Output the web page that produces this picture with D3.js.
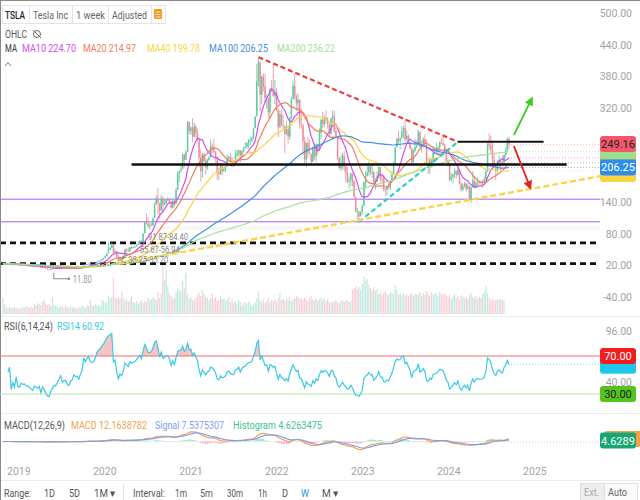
<!DOCTYPE html>
<html>
<head>
<meta charset="utf-8">
<script src="https://cdn.jsdelivr.net/npm/d3@7"></script>
<style>
body{margin:0;background:#fff;}
svg{display:block;font-family:Roboto,"Noto Sans",sans-serif;}
</style>
</head>
<body>
<svg id="chart" width="640" height="500"></svg>
<script>
// TSLA weekly, split adjusted, week ending Fridays from 2018-11-16
var firstWeek = "2018-11-16";
var firstOpen = 23.37;

var closes = [
 23.62,21.72,23.37,23.86,24.38,21.32,22.26,
 21.18,23.15,20.15,19.80,20.81,20.39,20.53,19.65,19.65,18.94,18.36,17.64,18.66,18.33,17.85,18.22,15.68,17.00,15.97,14.07,12.71,12.34,13.63,14.26,14.79,14.90,15.54,16.36,17.21,15.20,15.62,15.67,14.66,14.09,15.04,15.31,16.47,16.04,16.14,15.43,16.53,17.46,21.88,20.89,22.48,23.48,22.20,22.00,22.39,23.89,27.04,28.69,
 29.53,31.88,34.03,37.65,43.37,49.87,53.34,60.07,44.53,46.90,36.44,28.50,34.29,32.00,38.20,50.26,48.34,46.75,54.63,53.28,54.46,55.67,59.04,62.35,66.73,63.98,80.58,102.98,100.04,94.47,95.38,96.85,110.05,136.67,147.56,139.44,124.24,147.38,135.78,138.36,144.67,146.56,140.21,129.35,143.32,136.17,163.20,195.25,199.68,203.33,231.67,220.59,235.22,
 293.34,275.39,282.21,264.51,284.08,272.04,260.43,225.17,199.32,231.24,218.29,206.24,220.58,225.67,246.59,243.13,236.48,224.12,196.58,193.63,208.41,199.68,203.30,207.77,223.96,226.30,218.98,214.74,214.46,229.07,233.03,239.06,226.75,237.31,244.52,245.42,253.16,258.13,258.41,261.83,281.01,303.23,371.33,407.36,344.47,379.02,360.64,338.32,339.01,310.86,355.67,352.26,
 342.32,349.87,314.63,282.12,307.77,286.67,285.66,269.96,279.43,265.12,301.80,336.88,361.53,341.83,328.33,335.02,290.25,288.55,256.53,221.30,253.21,234.52,232.23,216.76,245.71,227.26,250.76,240.07,272.24,297.15,288.17,300.03,296.67,288.09,270.21,299.68,303.35,275.33,265.25,223.07,204.99,214.44,228.52,207.47,195.97,180.19,182.86,194.86,179.05,150.23,123.15,123.18,
 113.06,122.40,133.42,177.90,189.98,196.89,208.31,196.88,197.79,173.44,180.13,190.41,207.46,185.06,185.00,165.08,164.31,170.06,167.98,180.14,193.17,213.97,244.40,260.54,256.60,261.77,274.43,281.38,260.02,266.44,253.86,242.65,215.49,238.59,245.01,248.50,274.39,244.88,250.22,260.53,251.12,211.99,207.30,219.96,214.65,234.30,235.45,238.83,243.84,253.50,252.54,248.48,
 237.49,218.89,212.19,183.25,187.91,193.57,199.95,191.97,202.64,175.34,163.57,170.83,175.79,164.90,171.05,147.05,168.29,181.19,168.47,177.46,179.24,178.08,177.48,178.01,183.01,197.88,251.52,248.23,239.20,219.80,207.67,200.00,216.12,220.32,214.11,210.73,230.29,238.25,260.46,249.16
];

var highs = [
 23.8,23.5,23.6,24.5,25.1,24.9,22.6,
 22.6,23.3,23.5,20.5,21.8,21.4,20.8,20.8,21.4,19.8,19.3,18.4,18.7,19.2,18.5,18.5,18.4,17.2,16.9,16.0,14.2,13.1,13.9,14.7,15.1,15.3,16.5,16.5,17.3,17.6,16.1,16.0,15.8,15.1,15.3,15.5,16.6,16.7,16.4,16.6,16.7,17.6,22.0,22.1,22.8,23.7,24.2,22.6,22.6,24.2,27.3,29.0,
 30.3,33.2,34.3,39.5,43.6,64.6,55.0,63.1,60.1,51.8,46.9,40.5,37.0,35.4,38.9,51.6,53.1,54.0,55.1,56.4,55.7,56.0,60.0,66.3,67.5,67.9,81.5,103.3,119.7,112.1,101.2,101.2,111.0,139.7,154.1,166.7,137.0,153.7,151.4,144.6,145.6,150.4,148.3,142.5,145.3,143.5,167.5,198.3,199.9,214.7,231.7,223.2,239.6,
 294.8,289.3,284.3,300.1,292.0,288.0,280.2,256.6,240.4,233.7,235.3,224.0,223.0,229.0,260.3,252.5,260.3,237.1,218.7,206.2,211.2,210.0,205.0,210.4,230.8,229.0,233.1,226.6,217.7,239.6,240.0,239.4,239.4,239.7,245.2,254.8,253.2,259.9,264.6,264.8,281.1,303.3,402.9,414.5,400.0,381.0,385.3,385.0,345.4,335.0,357.0,372.9,
 402.7,371.9,356.9,318.5,315.0,315.9,306.3,277.8,295.5,286.7,302.6,340.6,371.6,384.3,345.3,348.0,336.0,318.7,286.2,264.6,253.5,264.4,259.6,230.0,246.1,252.0,252.1,250.0,280.8,298.3,311.9,305.0,314.7,302.0,284.0,299.9,314.9,313.8,288.5,254.3,225.8,229.8,233.8,237.4,209.0,207.6,188.5,196.3,191.3,182.5,150.0,129.3,
 119.0,122.6,136.7,180.7,199.0,214.0,217.6,209.7,211.2,198.6,186.2,199.3,207.8,202.7,191.8,191.6,167.0,170.8,177.4,180.7,198.6,216.9,245.2,263.6,276.9,263.6,284.3,286.1,299.3,276.0,269.1,255.6,243.8,240.8,261.2,258.0,278.4,271.4,256.7,263.6,268.9,259.9,224.1,226.4,223.8,246.7,243.6,252.8,246.7,256.0,262.9,265.1,
 251.7,242.7,223.5,217.5,196.4,194.1,205.6,199.4,205.6,197.0,179.4,176.0,179.3,176.8,176.4,167.4,170.1,198.9,188.9,179.6,187.7,181.3,181.5,182.9,188.8,203.2,252.4,271.0,266.6,253.2,232.5,207.0,219.8,228.2,215.9,229.0,231.0,244.2,263.5,264.9
];

var lows = [
 21.9,21.5,21.6,23.0,23.3,21.2,19.7,
 20.2,20.8,19.9,19.2,19.6,20.1,19.9,19.4,19.2,18.4,17.8,17.5,17.4,17.1,17.5,17.3,15.4,15.5,15.6,13.8,12.5,12.1,11.8,13.5,14.2,14.5,14.9,15.2,16.2,15.0,15.0,14.8,14.5,13.9,13.9,14.6,15.3,15.9,14.9,14.6,15.2,16.4,16.9,20.3,20.5,22.3,21.9,21.7,21.6,22.6,24.0,27.2,
 28.3,29.3,31.2,33.9,37.3,44.2,49.6,53.4,40.8,44.0,33.8,23.4,28.1,29.8,33.0,38.5,45.2,45.8,45.3,51.0,52.5,53.0,56.0,59.4,60.2,63.2,64.2,82.0,97.1,92.1,89.0,95.1,94.4,110.5,135.9,117.3,109.3,124.2,118.1,134.0,135.5,141.2,136.9,126.4,130.3,131.0,140.9,166.2,179.2,197.0,207.0,206.5,222.0,
 239.1,269.7,268.6,254.5,263.3,262.5,255.8,206.3,179.8,186.7,208.3,193.3,201.3,218.3,226.0,233.3,233.0,215.5,182.3,182.5,191.7,191.3,197.0,198.7,206.7,216.5,215.8,211.8,206.8,212.0,226.2,228.8,216.3,228.7,234.9,243.4,240.6,242.3,248.2,253.3,260.3,281.3,312.0,360.3,313.0,326.7,350.5,328.9,318.0,300.0,299.0,349.7,
 340.0,326.2,313.2,264.0,287.7,285.3,277.0,233.3,268.0,252.0,258.7,298.3,336.0,335.0,313.7,311.7,280.0,279.5,230.0,211.0,206.9,224.0,231.0,208.7,217.0,220.9,216.2,230.0,240.0,260.8,281.0,283.5,290.0,280.0,262.5,268.5,287.9,271.8,262.5,220.9,203.0,198.6,202.0,198.6,177.1,176.5,166.2,172.0,170.0,149.0,121.0,108.2,
 101.8,114.9,116.9,134.3,164.8,189.4,190.6,191.8,186.0,169.0,163.9,179.4,185.1,179.0,176.1,160.5,152.4,153.2,163.9,163.7,178.7,192.1,216.3,246.1,250.5,240.7,265.8,262.3,255.0,255.7,251.5,240.5,212.4,217.0,235.4,243.0,250.5,244.1,234.6,244.3,248.8,210.4,194.1,194.1,205.7,211.6,231.6,231.3,228.0,235.5,251.2,247.4,
 234.5,217.2,207.5,180.1,180.1,175.0,185.9,186.0,190.0,173.7,160.5,162.1,168.4,160.5,167.0,146.2,138.8,174.7,167.6,167.3,170.4,173.6,173.3,167.3,176.8,180.5,201.4,240.9,233.2,212.1,206.5,182.0,194.6,205.8,200.5,209.0,210.2,224.0,238.4,241.8
];

// relative weekly volume, bar heights
var volumes = [
 16,10,7,6,7,6,6,7,6,6,5,6,7,6,8,7,6,7,6,
 10,9,11,10,9,12,14,10,9,10,8,17,9,8,
 7,6,8,7,6,9,7,6,8,6,7,6,5,7,6,8,7,6,9,8,14,9,8,10,8,9,8,
 14,13,11,12,18,16,17,36,16,15,17,15,22,16,13,15,
 12,14,18,12,11,13,10,12,14,11,13,12,16,14,15,17,15,14,22,16,
 20,49,34,44,28,21,18,15,16,22,26,24,23,33,26,41,20,
 15,17,14,13,16,19,22,18,24,20,17,16,
 14,16,21,15,17,13,14,18,15,16,13,14,17,12,15,
 11,13,10,14,12,9,11,12,10,13,11,9,10,12,16,23,
 14,12,15,11,13,16,12,14,13,15,12,16,21,14,
 15,13,16,14,17,13,15,16,18,17,15,16,14,17,15,13,16,18,15,14,16,13,15,17,14,16,13,15,
 12,11,13,12,14,12,11,13,14,12,13,14,12,13,
 24,26,28,25,27,24,30,37,33,35,29,26,24,27,23,25,
 20,22,19,21,23,20,19,22,21,20,29,23,
 19,20,18,21,19,20,18,19,21,18,20,19,
 20,22,18,21,19,23,20,18,22,19,21,20,18,22,20,19,21,18,
 17,19,15,18,20,16,18,14,19,17,16,18,15,19,21,17,16,18,15,17,16,20,
 22,28,21,16,14,15,13,14,15,14,15,14,13
];

var priceTicks = [500, 440, 380, 320, 140, 80, 20, -40];
var rsiTicks = [96, 40];
var maPeriods = [10, 20, 40, 100, 200];
var maColors = ["#d24ef2", "#f37c5c", "#f8d443", "#3f8fe3", "#a6e29b"];
var maLabels = ["MA10 224.70", "MA20 214.97", "MA40 199.78", "MA100 206.25", "MA200 236.22"];
var maLast = [224.70, 214.97, 199.78, 206.25, 236.22];
var lastPrice = "249.16";
var rsiLast = 60.92;

// drawings on the chart: [date, price]
var trendLines = [
 {a: ["2021-11-05", 416], b: ["2024-03-01", 255], color: "#f23b3b", dash: "5,3", w: 2.2},
 {a: ["2023-01-06", 103], b: ["2024-03-01", 255], color: "#2ccfc6", dash: "5,3", w: 2.2},
 {a: ["2020-03-20", 23.4], b: ["2025-10-31", 190], color: "#fcd445", dash: "6,3", w: 2.4},
 {a: ["2024-03-01", 255], b: ["2025-02-28", 255], color: "#111", dash: null, w: 2},
 {a: ["2020-05-15", 212], b: ["2025-06-06", 212], color: "#111", dash: null, w: 2.4}
];
var levels = [
 {price: 146, color: "#a45cf6", dash: null, w: 1},
 {price: 103, color: "#a45cf6", dash: null, w: 1},
 {price: 63, color: "#111", dash: "6,4", w: 2.6},
 {price: 23.4, color: "#111", dash: "6,4", w: 2.6}
];
var arrows = [
 {a: ["2024-10-25", 268], b: ["2025-01-10", 338], color: "#3fcc25"},
 {a: ["2024-10-25", 247], b: ["2025-01-03", 167], color: "#e2231f"}
];
var gaps = [
 {label: "91.87-84.40", hi: 91.87, lo: 84.40, date: "2020-07-24", at: 74},
 {label: "55.67-56.94", hi: 56.94, lo: 55.67, date: "2020-06-19", at: 49},
 {label: "38.25-35.70", hi: 38.25, lo: 35.70, date: "2020-05-01", at: 31}
];
var lowMark = {label: "11.80", date: "2019-06-07", price: 11.8};

var svg = d3.select("#chart");
var parse = d3.timeParse("%Y-%m-%d");
var t0 = parse(firstWeek);
var n = closes.length;
var dates = closes.map(function(c, i){ return d3.timeDay.offset(t0, 7 * i); });
var opens = closes.map(function(c, i){ return i ? closes[i - 1] : firstOpen; });
var up = function(i){ return closes[i] >= opens[i]; };

var x = d3.scaleTime().domain([t0, d3.timeDay.offset(t0, 7 * 320)]).range([3, 530.4]);
var y = d3.scaleLinear().domain([-40, 500]).range([297, 13]);
var volY = d3.scaleLinear().domain([0, 50]).range([314, 264]);
var rsiY = d3.scaleLinear().domain([30, 70]).range([394, 356]);
var macdY = d3.scaleLinear().domain([0, 50]).range([441.5, 431]);
var xd = function(s){ return x(parse(s)); };

// fixed-width label helper (widths measured on the reference)
function label(xx, yy, txt, w, color, size, weight){
  return svg.append("text").attr("x", xx).attr("y", yy).attr("font-size", size || 10.5)
    .attr("fill", color).attr("font-weight", weight || 400)
    .attr("textLength", w).attr("lengthAdjust", "spacingAndGlyphs").text(txt);
}

// indicators
function sma(p){
  return closes.map(function(c, i){ return d3.mean(closes.slice(Math.max(0, i - p + 1), i + 1)); });
}
function ema(arr, p){
  var k = 2 / (p + 1), e = arr[0];
  return arr.map(function(v, i){ if (i) e = v * k + e * (1 - k); return e; });
}
function rsi(p){
  var out = [null], ag = 0, al = 0;
  for (var i = 1; i < n; i++) {
    var d = closes[i] - closes[i - 1], g = Math.max(d, 0), l = Math.max(-d, 0);
    if (i <= p) { ag = (ag * (i - 1) + g) / i; al = (al * (i - 1) + l) / i; }
    else { ag = (ag * (p - 1) + g) / p; al = (al * (p - 1) + l) / p; }
    out.push(al === 0 ? 100 : 100 - 100 / (1 + ag / al));
  }
  return out;
}
var ema12 = ema(closes, 12), ema26 = ema(closes, 26);
var macd = closes.map(function(c, i){ return ema12[i] - ema26[i]; });
var signal = ema(macd, 9);
var hist = macd.map(function(v, i){ return v - signal[i]; });
var rsi14 = rsi(14);
var idx = d3.range(n);

// frame
svg.append("rect").attr("x", 0.5).attr("y", 0.5).attr("width", 660).attr("height", 520)
  .attr("fill", "none").attr("stroke", "#8a8a8a");
[316.5, 413.5, 480.5].forEach(function(yy){
  svg.append("line").attr("x1", 1).attr("x2", 640).attr("y1", yy).attr("y2", yy).attr("stroke", "#ececec");
});

svg.append("clipPath").attr("id", "main").append("rect").attr("x", 1).attr("y", 1).attr("width", 599).attr("height", 314);
var main = svg.append("g").attr("clip-path", "url(#main)");

// volume
main.selectAll("rect.vol").data(idx).join("rect")
  .attr("x", function(i){ return x(dates[i]) - 0.65; })
  .attr("width", 1.3)
  .attr("y", function(i){ return volY(volumes[i] || 0); })
  .attr("height", function(i){ return volY(0) - volY(volumes[i] || 0); })
  .attr("fill", function(i){ return up(i) ? "#c4ece0" : "#fdd0d7"; });

// gap bands
gaps.forEach(function(g){
  var y1 = y(g.hi), y2 = y(g.lo);
  main.append("rect").attr("x", xd(g.date) - 4).attr("width", 610)
    .attr("y", Math.min(y1, y2) - 1.5).attr("height", Math.max(4, Math.abs(y2 - y1)))
    .attr("fill", "#f2f2f2").attr("opacity", 0.6);
});

// level lines
levels.forEach(function(l){
  main.append("line").attr("x1", 0).attr("x2", 600).attr("y1", y(l.price)).attr("y2", y(l.price))
    .attr("stroke", l.color).attr("stroke-width", l.w).attr("stroke-dasharray", l.dash);
});

// candles
main.selectAll("line.wick").data(idx).join("line")
  .attr("x1", function(i){ return x(dates[i]); }).attr("x2", function(i){ return x(dates[i]); })
  .attr("y1", function(i){ return y(highs[i]); }).attr("y2", function(i){ return y(lows[i]); })
  .attr("stroke", function(i){ return up(i) ? "#57cc9f" : "#f2899a"; }).attr("stroke-width", 0.8);
main.selectAll("rect.body").data(idx).join("rect")
  .attr("x", function(i){ return x(dates[i]) - 0.7; }).attr("width", 1.4)
  .attr("y", function(i){ return y(Math.max(opens[i], closes[i])); })
  .attr("height", function(i){ return Math.max(0.8, Math.abs(y(opens[i]) - y(closes[i]))); })
  .attr("fill", function(i){ return up(i) ? "#57cc9f" : "#f2899a"; });

// moving averages
maPeriods.forEach(function(p, k){
  var m = sma(p);
  main.append("path").datum(idx)
    .attr("d", d3.line().x(function(i){ return x(dates[i]); }).y(function(i){ return y(m[i]); }))
    .attr("fill", "none").attr("stroke", maColors[k]).attr("stroke-width", 1.2);
  main.append("line").attr("x1", x(dates[n - 1]) + 2).attr("x2", 600)
    .attr("y1", y(maLast[k])).attr("y2", y(maLast[k]))
    .attr("stroke", maColors[k]).attr("stroke-dasharray", "1,2").attr("opacity", 0.6);
});
main.append("line").attr("x1", x(dates[n - 1]) + 2).attr("x2", 600)
  .attr("y1", y(+lastPrice)).attr("y2", y(+lastPrice))
  .attr("stroke", "#f2899a").attr("stroke-dasharray", "1,2").attr("opacity", 0.7);

// drawings
trendLines.forEach(function(t){
  svg.append("line").attr("x1", xd(t.a[0])).attr("y1", y(t.a[1])).attr("x2", xd(t.b[0])).attr("y2", y(t.b[1]))
    .attr("stroke", t.color).attr("stroke-width", t.w).attr("stroke-dasharray", t.dash);
});
var defs = svg.append("defs");
arrows.forEach(function(a, k){
  defs.append("marker").attr("id", "ah" + k).attr("viewBox", "0 0 10 10").attr("refX", 8).attr("refY", 5)
    .attr("markerWidth", 5).attr("markerHeight", 5).attr("orient", "auto")
    .append("path").attr("d", "M0,0L10,5L0,10Z").attr("fill", a.color);
  svg.append("line").attr("x1", xd(a.a[0])).attr("y1", y(a.a[1])).attr("x2", xd(a.b[0])).attr("y2", y(a.b[1]))
    .attr("stroke", a.color).attr("stroke-width", 1.8).attr("marker-end", "url(#ah" + k + ")");
});

// gap labels
gaps.forEach(function(g){
  label(xd(g.date), y(g.at) + 3, g.label, 40, "#888", 9);
});
svg.append("path").attr("d", "M" + (xd(gaps[2].date) - 6) + "," + (y(gaps[2].at) + 3) + "v-5h4")
  .attr("fill", "none").attr("stroke", "#888");
var lx = xd(lowMark.date) + 3, ly = y(lowMark.price);
svg.append("path").attr("d", "M" + lx + "," + (ly + 3) + "V" + (ly + 9) + "H" + (lx + 15))
  .attr("fill", "none").attr("stroke", "#888");
svg.append("circle").attr("cx", lx + 15).attr("cy", ly + 9).attr("r", 1.3).attr("fill", "#888");
label(lx + 19, ly + 13, lowMark.label, 19, "#999", 10.5);

// price axis labels
svg.selectAll("text.pt").data(priceTicks).join("text")
  .attr("x", 632).attr("y", function(v){ return y(v) + 4; }).attr("text-anchor", "end")
  .attr("font-size", 10.5).attr("fill", "#a3a3a3").text(function(v){ return v.toFixed(2); });

function badge(yc, txt, bg, fg, w){
  svg.append("rect").attr("x", 600).attr("y", yc - 8).attr("width", w || 36).attr("height", 16).attr("rx", 3).attr("fill", bg);
  if (txt) svg.append("text").attr("x", 618).attr("y", yc + 4).attr("text-anchor", "middle").attr("font-size", 11)
    .attr("fill", fg).text(txt);
}
// last-value tags of the averages, mostly hidden below the top ones
badge(y(maLast[0]), null, maColors[0]);
badge(y(maLast[1]), null, maColors[1]);
badge(y(maLast[2]) + 3, null, maColors[2]);
badge(y(maLast[4]), null, "#9fe08d");
badge(y(maLast[3]), "206.25", "#2f8fe8", "#fff");
badge(y(+lastPrice) - 1, lastPrice, "#f4566b", "#222");

// header
var hb = svg.append("g");
hb.append("rect").attr("x", 2.5).attr("y", 5.5).attr("width", 163).attr("height", 18).attr("fill", "#fff").attr("stroke", "#e4e4e4");
[29.5, 72.5, 108.5, 151.5].forEach(function(xx){
  hb.append("line").attr("x1", xx).attr("x2", xx).attr("y1", 5.5).attr("y2", 23.5).attr("stroke", "#e4e4e4");
});
label(5, 18.5, "TSLA", 20, "#222", 11, 500);
label(33, 18.5, "Tesla Inc", 35, "#666", 11);
label(76, 18.5, "1 week", 29, "#666", 11);
label(112, 18.5, "Adjusted", 35, "#666", 11);
hb.append("rect").attr("x", 154).attr("y", 9).attr("width", 8).attr("height", 10).attr("rx", 1.5).attr("fill", "#f7941d");
[12, 14.5, 17].forEach(function(yy){
  hb.append("line").attr("x1", 155.5).attr("x2", 160.5).attr("y1", yy).attr("y2", yy).attr("stroke", "#fff").attr("stroke-width", 0.8);
});
label(5, 38, "OHLC", 22, "#555", 11);
svg.append("circle").attr("cx", 37).attr("cy", 34).attr("r", 3.5).attr("fill", "none").attr("stroke", "#666");
svg.append("line").attr("x1", 33).attr("y1", 30).attr("x2", 41).attr("y2", 38).attr("stroke", "#666");
label(5, 52, "MA", 12, "#333", 11);
var maX = [22, 83, 147, 209, 277], maW = [54, 53, 53, 59, 58];
maLabels.forEach(function(l, k){ label(maX[k], 52, l, maW[k], maColors[k], 11); });
svg.append("path").attr("d", "M5,66L8,62.5L11,66").attr("fill", "none").attr("stroke", "#777");

// RSI panel
var rsiG = svg.append("g");
var rIdx = idx.slice(3);
rsiG.append("clipPath").attr("id", "ob").append("rect").attr("x", 0).attr("y", 318).attr("width", 600).attr("height", rsiY(70) - 318);
rsiG.append("path").datum(rIdx)
  .attr("d", d3.area().x(function(i){ return x(dates[i]); }).y0(rsiY(70)).y1(function(i){ return rsiY(rsi14[i]); }))
  .attr("fill", "#f7c4c6").attr("clip-path", "url(#ob)");
rsiG.append("line").attr("x1", 0).attr("x2", 600).attr("y1", rsiY(70)).attr("y2", rsiY(70)).attr("stroke", "#f36c6c").attr("stroke-width", 1.2);
rsiG.append("line").attr("x1", 0).attr("x2", 600).attr("y1", rsiY(30)).attr("y2", rsiY(30)).attr("stroke", "#b4e8a8").attr("stroke-width", 1.2);
rsiG.append("path").datum(rIdx)
  .attr("d", d3.line().x(function(i){ return x(dates[i]); }).y(function(i){ return rsiY(rsi14[i]); }))
  .attr("fill", "none").attr("stroke", "#38c9e6").attr("stroke-width", 1.2);
rsiG.append("line").attr("x1", x(dates[n - 1]) + 2).attr("x2", 600)
  .attr("y1", rsiY(rsiLast)).attr("y2", rsiY(rsiLast)).attr("stroke", "#38c9e6").attr("stroke-dasharray", "1,2").attr("opacity", 0.6);
label(4, 330, "RSI(6,14,24)", 49, "#555", 10.5);
label(57, 330, "RSI14 60.92", 47, "#38c9e6", 10.5);
svg.append("text").attr("x", 632).attr("y", rsiY(96) + 4).attr("text-anchor", "end").attr("font-size", 10.5).attr("fill", "#a3a3a3").text(rsiTicks[0].toFixed(2));
svg.append("text").attr("x", 632).attr("y", rsiY(40) + 1).attr("text-anchor", "end").attr("font-size", 10.5).attr("fill", "#a3a3a3").text(rsiTicks[1].toFixed(2));
badge(rsiY(rsiLast) + 1, null, "#1fc8ea");
badge(rsiY(70), "70.00", "#f21d1d", "#fff");
badge(rsiY(30), "30.00", "#52c41a", "#222");

// MACD panel
var mG = svg.append("g");
mG.selectAll("rect").data(idx).join("rect")
  .attr("x", function(i){ return x(dates[i]) - 0.6; }).attr("width", 1.2)
  .attr("y", function(i){ return Math.min(macdY(0), macdY(hist[i])); })
  .attr("height", function(i){ return Math.max(0.6, Math.abs(macdY(hist[i]) - macdY(0))); })
  .attr("fill", function(i){ return hist[i] >= 0 ? "#8fdfbd" : "#f6a3ae"; });
[[macd, "#f7a04c"], [signal, "#7f9ef2"]].forEach(function(s){
  mG.append("path").datum(idx)
    .attr("d", d3.line().x(function(i){ return x(dates[i]); }).y(function(i){ return macdY(s[0][i]); }))
    .attr("fill", "none").attr("stroke", s[1]).attr("stroke-width", 1.2);
});
mG.append("line").attr("x1", x(dates[n - 1]) + 2).attr("x2", 600).attr("y1", macdY(0) + 0.5).attr("y2", macdY(0) + 0.5)
  .attr("stroke", "#f6a3ae").attr("stroke-dasharray", "1,2").attr("opacity", 0.7);
label(4, 429, "MACD(12,26,9)", 61, "#555", 10.5);
label(71, 429, "MACD 12.1638782", 76, "#f7a04c", 10.5);
label(155, 429, "Signal 7.5375307", 69, "#7f9ef2", 10.5);
label(233, 429, "Histogram 4.6263475", 89, "#3cc48f", 10.5);
svg.append("rect").attr("x", 604).attr("y", 431).attr("width", 40).attr("height", 16).attr("rx", 3).attr("fill", "#f7a04c");
badge(440.5, "4.6289", "#17a673", "#fff");

// time axis
d3.timeYear.range(new Date(2019, 0, 1), new Date(2025, 1, 1)).forEach(function(d){
  svg.append("text").attr("x", x(d) + 5).attr("y", 475).attr("text-anchor", "middle")
    .attr("font-size", 10.5).attr("fill", "#a3a3a3").text(d.getFullYear());
});

// toolbar
[["Range:", 4, 27], ["1D", 44, 11], ["5D", 69, 11], ["1M ▾", 94, 22], ["Interval:", 133, 32],
 ["1m", 175, 12], ["5m", 200, 13], ["30m", 227, 16], ["1h", 258, 9], ["D", 282, 6], ["W", 301, 8], ["M ▾", 322, 17]].forEach(function(t){
  label(t[1], 497, t[0], t[2], t[0] === "W" ? "#2f8fe8" : "#555", 10.5);
});
svg.append("line").attr("x1", 123.5).attr("x2", 123.5).attr("y1", 484).attr("y2", 500).attr("stroke", "#e4e4e4");
svg.append("rect").attr("x", 580.5).attr("y", 483.5).attr("width", 24).attr("height", 17).attr("fill", "#eee").attr("stroke", "#e0e0e0");
svg.append("rect").attr("x", 604.5).attr("y", 483.5).attr("width", 33).attr("height", 17).attr("fill", "#fafafa").attr("stroke", "#e0e0e0");
label(584, 496, "Ext.", 15, "#aaa", 10);
label(608, 496, "Auto", 19, "#666", 10);
</script>
</body>
</html>
